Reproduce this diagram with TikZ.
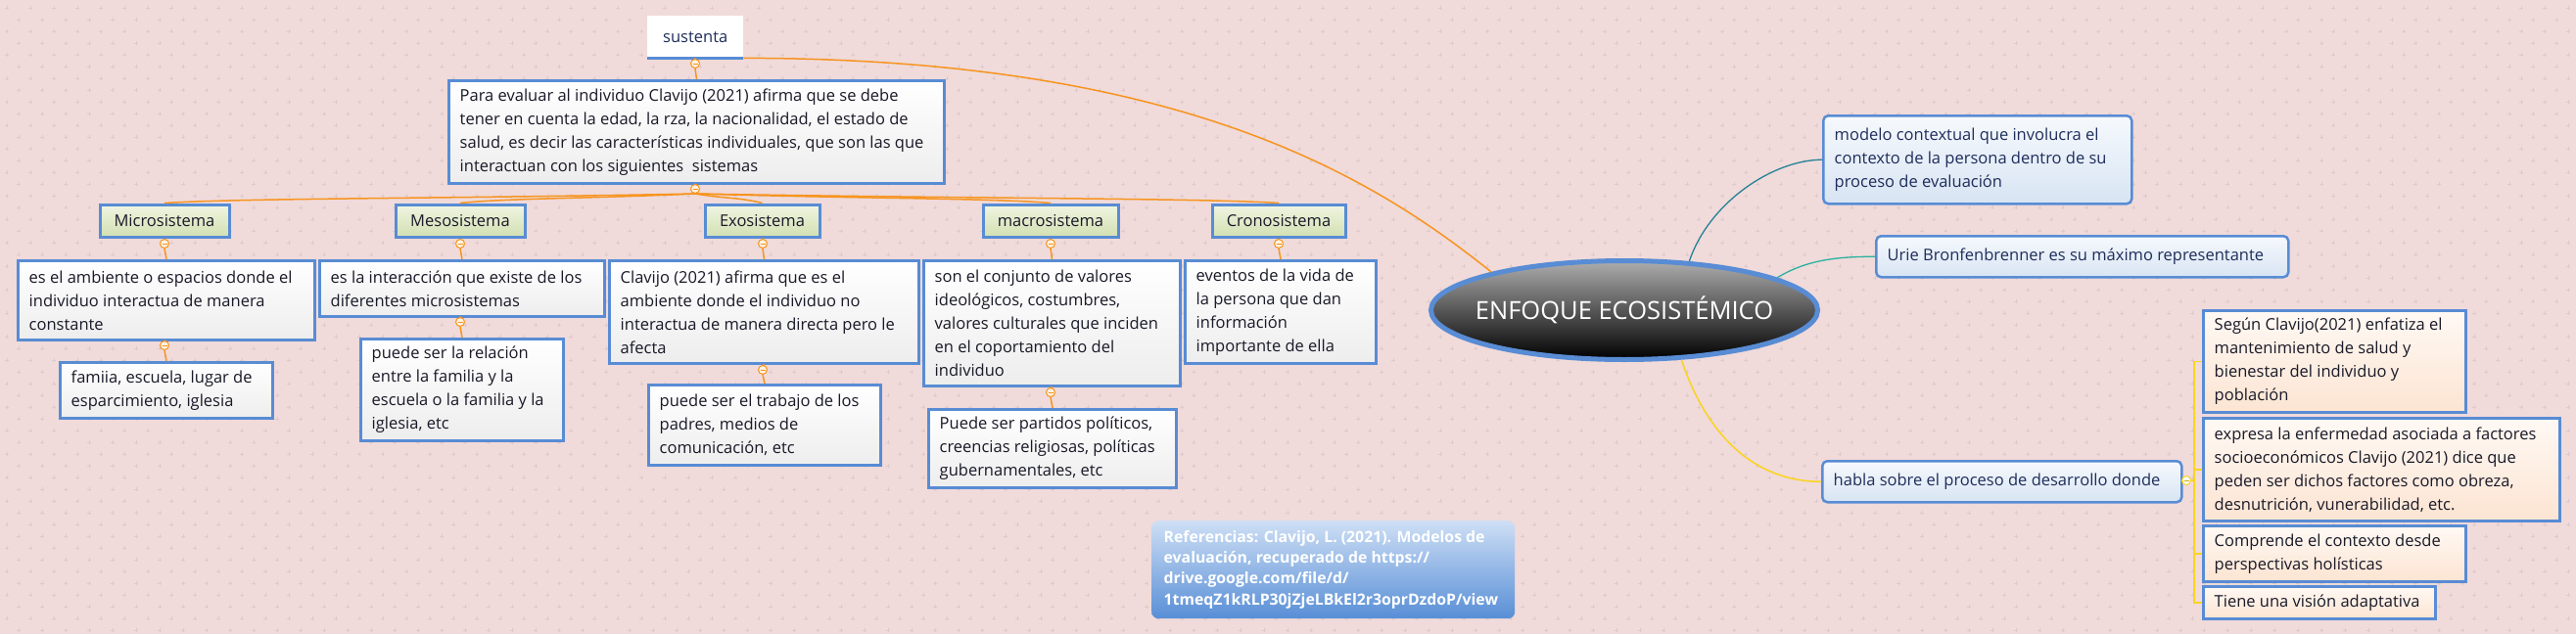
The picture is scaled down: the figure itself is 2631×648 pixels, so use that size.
\documentclass[tikz,border=0pt]{standalone}
\usepackage{fontspec}
\setmainfont{Open Sans}
\usetikzlibrary{shapes.geometric}
\definecolor{bg}{RGB}{240,218,218}
\definecolor{gp}{RGB}{222,202,204}
\definecolor{bblue}{RGB}{88,140,212}
\definecolor{orng}{RGB}{247,148,30}
\definecolor{yel}{RGB}{250,212,30}
\definecolor{tealA}{RGB}{35,130,150}
\definecolor{tealB}{RGB}{40,178,160}
\definecolor{txt}{RGB}{25,25,40}
\definecolor{navy}{RGB}{30,45,90}
\definecolor{catT}{RGB}{240,245,226}
\definecolor{catB}{RGB}{210,224,178}
\definecolor{bluT}{RGB}{246,249,253}
\definecolor{bluB}{RGB}{216,228,243}
\definecolor{peaT}{RGB}{255,249,244}
\definecolor{peaB}{RGB}{252,228,210}
\definecolor{refT}{RGB}{206,223,245}
\definecolor{refB}{RGB}{88,142,214}
\definecolor{cfill}{RGB}{255,242,224}
\tikzset{
  boxbase/.style={draw=bblue, line width=3pt, inner sep=0pt},
  graybox/.style={boxbase, top color=white, bottom color=black!7},
  catbox/.style={boxbase, top color=catT, bottom color=catB, text=txt, font=\fontsize{16.5}{24}\selectfont},
  rbluebox/.style={draw=bblue, line width=2.5pt, rounded corners=5pt, inner sep=0pt, top color=bluT, bottom color=bluB},
  peachbox/.style={boxbase, top color=peaT, bottom color=peaB},
  refbox/.style={rounded corners=7pt, inner sep=0pt, top color=refT, bottom color=refB},
  dtxt/.style={align=left, inner sep=0pt, text=txt, font=\fontsize{16.5}{24}\selectfont},
  ntxt/.style={align=left, inner sep=0pt, text=navy, font=\fontsize{16.5}{24}\selectfont},
  rtxt/.style={align=left, inner sep=0pt, text=white, font=\fontsize{15.8}{21.2}\selectfont\bfseries},
  ocirc/.style={circle, draw=orng, line width=1pt, fill=cfill, minimum size=9pt, inner sep=0pt,
     path picture={\draw[orng, line width=0.9pt] ([xshift=-2.5pt]path picture bounding box.center) -- ([xshift=2.5pt]path picture bounding box.center);}},
  ycirc/.style={circle, draw=yel, line width=1pt, fill=white, minimum size=9pt, inner sep=0pt,
     path picture={\draw[yel!80!black, line width=0.9pt] ([xshift=-2.5pt]path picture bounding box.center) -- ([xshift=2.5pt]path picture bounding box.center);}},
  oline/.style={draw=orng, line width=1.5pt},
  yline/.style={draw=yel, line width=1.5pt},
}
\newcommand\mmnode[8]{%
  \pgfmathsetmacro\mmw{#6-#4}\pgfmathsetmacro\mmh{#7-#5}%
  \node[#1, anchor=north west, minimum width=\mmw pt, minimum height=\mmh pt] (#3) at (#4,#5) {};
  \node[#2, anchor=west] (#3-t) at ([xshift=12.5pt]#3.west) {#8};}
\begin{document}
\begin{tikzpicture}[x=1pt,y=-1pt]
\useasboundingbox (0,0) rectangle (2631,648);
\fill[bg] (0,0) rectangle (2631,648);
\foreach \r in {0,...,53}{
  \pgfmathsetmacro\yy{8+12*\r}
  \pgfmathsetmacro\off{mod(\r,2)*12+7}
  \draw[gp, line width=0.9pt] \foreach \c in {0,...,109}{ (\off+24*\c,\yy) +(-2.2,0) -- +(2.2,0) +(0,-2.2) -- +(0,2.2) };
}
% ---- central ellipse
\node[ellipse, draw=bblue, line width=5pt, top color=black!32, bottom color=black, minimum width=395pt, minimum height=101pt, inner sep=0pt] (ell) at (1659,317) {};
\node[inner sep=0pt, text=white, font=\fontsize{25.5}{30}\selectfont] (ell-t) at (ell.center) {ENFOQUE ECOSISTÉMICO};
% ---- left branch
\node[fill=white, minimum width=98pt, minimum height=43pt, inner sep=0pt, anchor=north west, text=navy, font=\fontsize{16.5}{24}\selectfont] (sus) at (661,16) {sustenta};
\draw[bblue, line width=3pt] (sus.south west) -- (sus.south east);
\node[ocirc] (k0) at (710,65) {};
\mmnode{graybox}{dtxt}{top}{457}{81}{963}{186}{Para evaluar al individuo Clavijo (2021) afirma que se debe\\tener en cuenta la edad, la rza, la nacionalidad, el estado de\\salud, es decir las características individuales, que son las que\\interactuan con los siguientes\ \ sistemas}
\node[ocirc] (k1) at (710,193) {};
\node[catbox, minimum width=132pt, minimum height=33pt] (cmic) at (168,225.5) {Microsistema};
\node[catbox, minimum width=132pt, minimum height=33pt] (cmes) at (470,225.5) {Mesosistema};
\node[catbox, minimum width=117pt, minimum height=33pt] (cexo) at (778.5,225.5) {Exosistema};
\node[catbox, minimum width=138pt, minimum height=33pt] (cmac) at (1073,225.5) {macrosistema};
\node[catbox, minimum width=136pt, minimum height=33pt] (ccro) at (1306,225.5) {Cronosistema};
\node[ocirc] (kmic) at (168,249) {};
\node[ocirc] (kmes) at (470,249) {};
\node[ocirc] (kexo) at (779,249) {};
\node[ocirc] (kmac) at (1073,249) {};
\node[ocirc] (kcro) at (1306,249) {};
\mmnode{graybox}{dtxt}{dmic}{17}{265}{320}{346}{es el ambiente o espacios donde el\\individuo interactua de manera\\constante}
\mmnode{graybox}{dtxt}{dmes}{325}{265}{616}{322}{es la interacción que existe de los\\diferentes microsistemas}
\mmnode{graybox}{dtxt}{dexo}{621}{265}{937}{370}{Clavijo (2021) afirma que es el\\ambiente donde el individuo no\\interactua de manera directa pero le\\afecta}
\mmnode{graybox}{dtxt}{dmac}{942}{265}{1204}{393}{son el conjunto de valores\\ideológicos, costumbres,\\valores culturales que inciden\\en el coportamiento del\\individuo}
\mmnode{graybox}{dtxt}{dcro}{1209}{265}{1404}{370}{eventos de la vida de\\la persona que dan\\información\\importante de ella}
\node[ocirc] (lmic) at (168,353) {};
\node[ocirc] (lmes) at (470,329) {};
\node[ocirc] (lexo) at (779,378) {};
\node[ocirc] (lmac) at (1073,401) {};
\mmnode{graybox}{dtxt}{emic}{60}{369}{277}{426}{famiia, escuela, lugar de\\esparcimiento, iglesia}
\mmnode{graybox}{dtxt}{emes}{367}{345}{574}{449}{puede ser la relación\\entre la familia y la\\escuela o la familia y la\\iglesia, etc}
\mmnode{graybox}{dtxt}{eexo}{661}{392}{898}{474}{puede ser el trabajo de los\\padres, medios de\\comunicación, etc}
\mmnode{graybox}{dtxt}{emac}{947}{417}{1200}{497}{Puede ser partidos políticos,\\creencias religiosas, políticas\\gubernamentales, etc}
% connectors left
\draw[oline] (sus.south east) .. controls +(450,0) and +(-120,-96) .. (ell.164);
\draw[oline] (sus.south) -- (k0.north);
\draw[oline] (k0.south) -- (top.north);
\draw[oline] (top.south) -- (k1.north);
\draw[oline] (k1.south) .. controls +(-250,5) and +(80,-5) .. (cmic.north);
\draw[oline] (k1.south) .. controls +(-110,5) and +(50,-5) .. (cmes.north);
\draw[oline] (k1.south) .. controls +(30,5) and +(-25,-6) .. (cexo.north);
\draw[oline] (k1.south) .. controls +(170,5) and +(-60,-5) .. (cmac.north);
\draw[oline] (k1.south) .. controls +(280,5) and +(-80,-5) .. (ccro.north);
\foreach \a in {mic,mes,exo,mac,cro}{
  \draw[oline] (c\a.south) -- (k\a.north);
  \draw[oline] (k\a.south) -- (d\a.north);
}
\foreach \a in {mic,mes,exo,mac}{
  \draw[oline] (d\a.south) -- (l\a.north);
  \draw[oline] (l\a.south) -- (e\a.north);
}
% ---- right branch
\mmnode{rbluebox}{ntxt}{mod}{1861}{117}{2176}{207}{modelo contextual que involucra el\\contexto de la persona dentro de su\\proceso de evaluación}
\mmnode{rbluebox}{ntxt}{urie}{1915}{240}{2336}{282}{Urie Bronfenbrenner es su máximo representante}
\mmnode{rbluebox}{ntxt}{habla}{1860}{470}{2227}{512}{habla sobre el proceso de desarrollo donde}
\node[ycirc] (yc) at (2233,491) {};
\mmnode{peachbox}{dtxt}{ra}{2249}{316}{2517}{420}{Según Clavijo(2021) enfatiza el\\mantenimiento de salud y\\bienestar del individuo y\\población}
\mmnode{peachbox}{dtxt}{rb}{2249}{426}{2613}{531}{expresa la enfermedad asociada a factores\\socioeconómicos Clavijo (2021) dice que\\peden ser dichos factores como obreza,\\desnutrición, vunerabilidad, etc.}
\mmnode{peachbox}{dtxt}{rc}{2249}{536}{2517}{593}{Comprende el contexto desde\\perspectivas holísticas}
\mmnode{peachbox}{dtxt}{rd}{2249}{598}{2486}{631}{Tiene una visión adaptativa}
\draw[tealA, line width=1.3pt] (ell.37) .. controls +(20,-60) and +(-50,0) .. (mod.west);
\draw[tealB, line width=1.3pt] (ell.12) .. controls +(30,-18) and +(-40,0) .. (urie.west);
\draw[yline] (ell.-41) .. controls +(25,75) and +(-70,0) .. (habla.west);
\draw[yline] (habla.east) -- (yc.west);
\foreach \b in {ra,rb,rc,rd}{
  \draw[yline, line width=1.2pt] (yc.east) .. controls +(6,0) and +(-9,0) .. ([xshift=-8pt]\b.west |- yc) -- ([xshift=-8pt]\b.west) -- (\b.west);
}
% ---- reference
\mmnode{refbox}{rtxt}{ref}{1176}{532}{1547}{632}{Referencias: Clavijo, L. (2021). Modelos de\\evaluación, recuperado de https://\\drive.google.com/file/d/\\1tmeqZ1kRLP30jZjeLBkEl2r3oprDzdoP/view}
\end{tikzpicture}
\end{document}
